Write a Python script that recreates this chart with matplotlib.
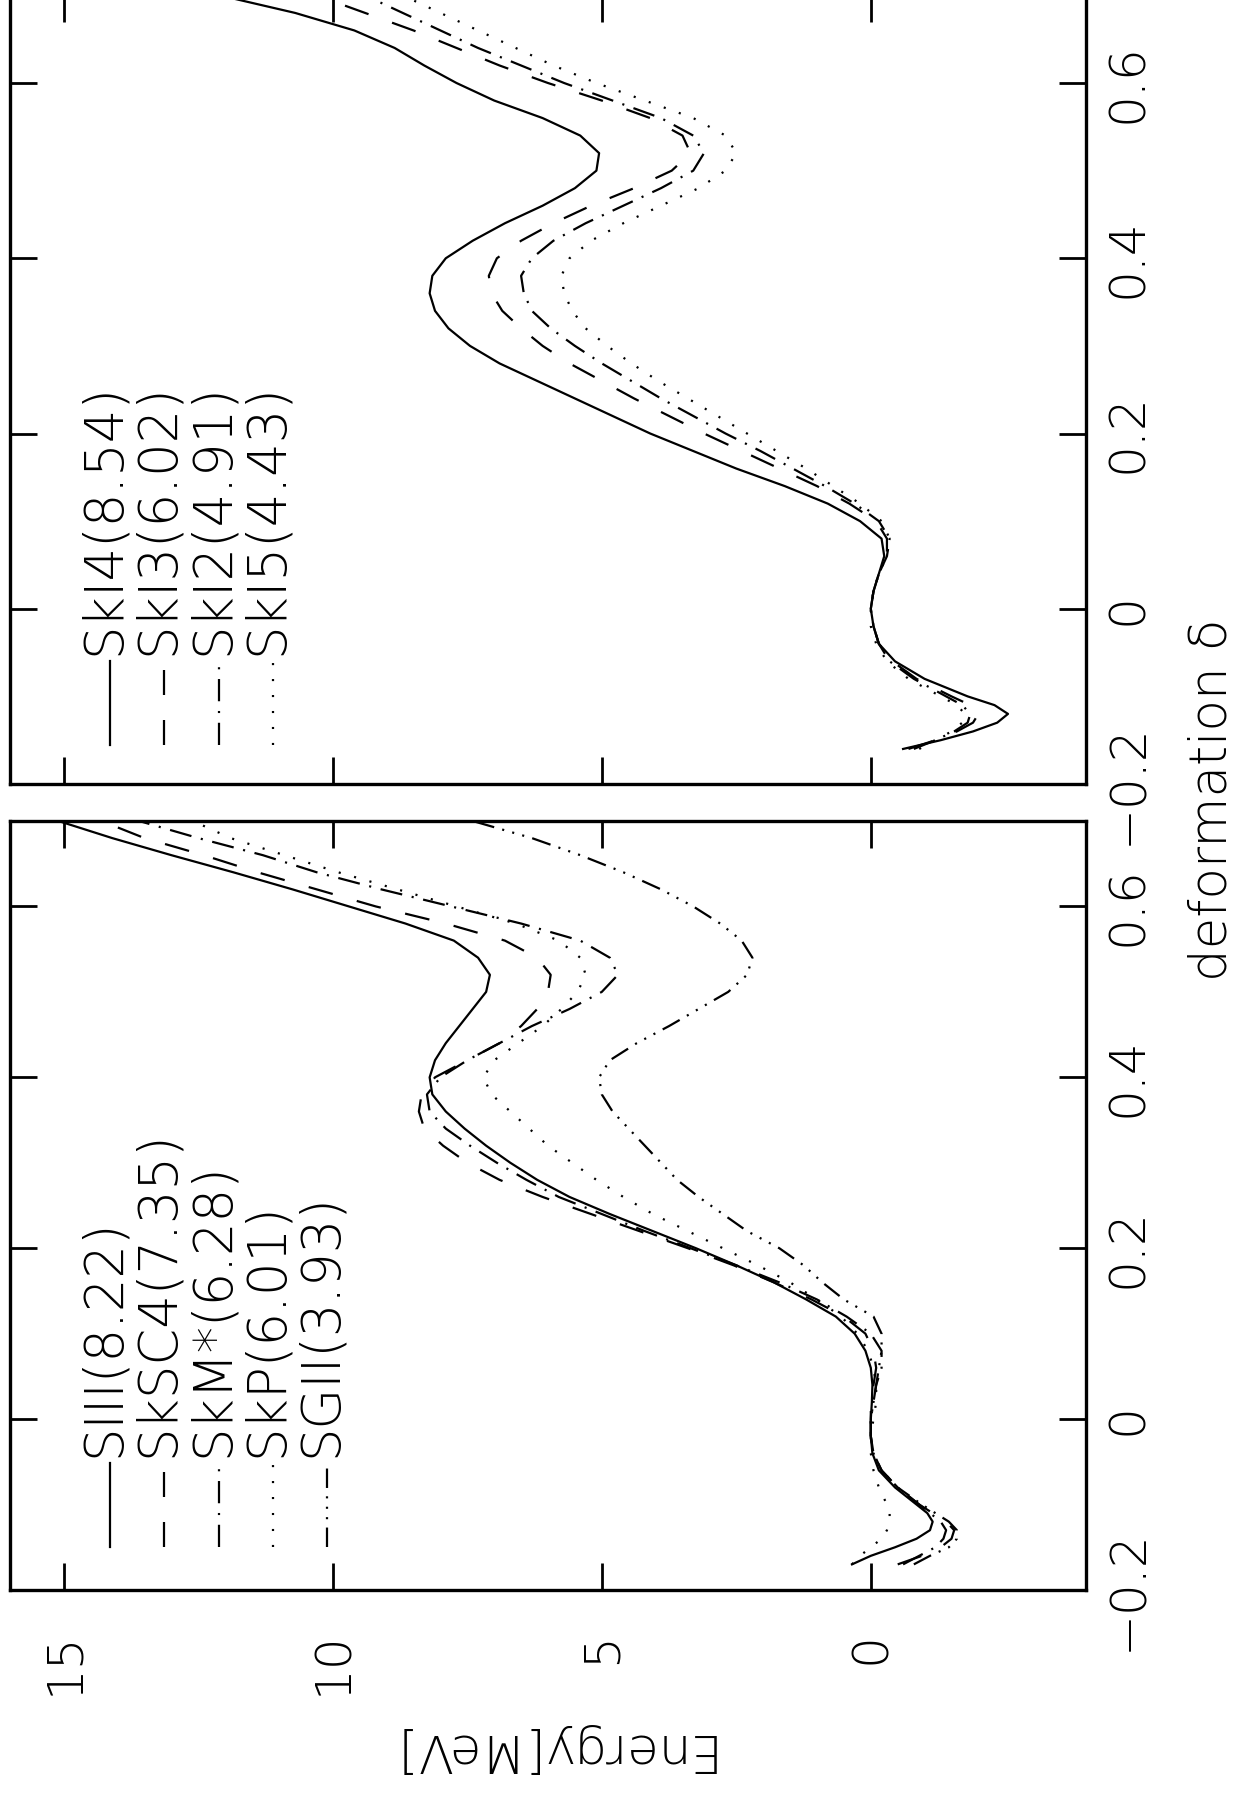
# %% Imports & config
# Two fission-barrier panels, drawn already turned on their side like the
# scanned page: energy runs right-to-left, deformation runs bottom-to-top.
import numpy as np
import matplotlib
matplotlib.use("Agg")
import matplotlib.pyplot as plt

plt.rcParams["font.family"] = ["DejaVu Sans"]
plt.rcParams["font.weight"] = 200      # thin strokes like the plotter font
plt.rcParams["lines.scale_dashes"] = False

# %% Data
deformation = [-0.17, -0.16, -0.15, -0.14, -0.13, -0.12, -0.11, -0.10,
               -0.08, -0.06, -0.04, -0.02, 0.00, 0.02, 0.04, 0.06, 0.08,
               0.10, 0.12, 0.14, 0.16, 0.18, 0.20, 0.22, 0.24, 0.26, 0.28,
               0.30, 0.32, 0.34, 0.36, 0.38, 0.40, 0.42, 0.44, 0.46, 0.48,
               0.50, 0.52, 0.54, 0.56, 0.58, 0.60, 0.62, 0.64, 0.66, 0.68,
               0.70]

# lower panel in the picture
e_siii = [0.35, 0.0, -0.45, -0.85, -1.1, -1.15, -1.05, -0.85, -0.45, -0.15, -0.03, 0.0,
          0.0, -0.02, -0.03, 0.0, 0.1, 0.3, 0.65, 1.2, 1.8, 2.5, 3.25, 4.05, 4.85, 5.6,
          6.2, 6.7, 7.15, 7.55, 7.9, 8.15, 8.2, 8.1, 7.9, 7.65, 7.4, 7.15, 7.08, 7.3,
          7.75, 8.65, 9.7, 10.75, 11.85, 13.0, 14.1, 15.1]
e_sksc4 = [-0.5, -0.95, -1.3, -1.5, -1.55, -1.4, -1.15, -0.9, -0.5, -0.2, -0.05, 0.0,
           0.0, 0.0, -0.05, -0.1, -0.05, 0.1, 0.5, 1.1, 1.8, 2.55, 3.4, 4.3, 5.2, 6.1,
           6.9, 7.5, 7.95, 8.3, 8.4, 8.35, 8.1, 7.5, 6.9, 6.5, 6.2, 6.0, 5.95, 6.2,
           6.8, 7.9, 9.2, 10.3, 11.4, 12.4, 13.5, 14.3]
e_skmstar = [-0.6, -0.9, -1.2, -1.35, -1.4, -1.3, -1.1, -0.9, -0.5, -0.2, -0.05, 0.0,
             0.0, -0.05, -0.1, -0.2, -0.2, 0.0, 0.45, 1.0, 1.7, 2.5, 3.35, 4.2, 5.0, 5.8,
             6.4, 6.95, 7.45, 7.9, 8.2, 8.25, 8.0, 7.5, 6.9, 6.3, 5.6, 5.0, 4.7, 4.85,
             5.4, 6.5, 7.8, 9.1, 10.3, 11.3, 12.5, 13.6]
e_skp = [0.35, 0.2, 0.0, -0.2, -0.3, -0.35, -0.35, -0.3, -0.15, -0.05, 0.0, 0.0,
         -0.05, -0.1, -0.1, -0.05, 0.05, 0.25, 0.55, 1.0, 1.5, 2.1, 2.75, 3.4, 4.05, 4.6,
         5.1, 5.55, 6.0, 6.35, 6.7, 7.05, 7.2, 7.0, 6.55, 6.1, 5.75, 5.45, 5.3, 5.4,
         5.8, 6.6, 7.7, 8.8, 9.9, 10.9, 11.9, 12.6]
e_sgii = [-0.8, -1.1, -1.45, -1.6, -1.6, -1.45, -1.2, -0.95, -0.5, -0.2, -0.05, 0.0,
          0.0, -0.05, -0.1, -0.15, -0.2, -0.2, -0.05, 0.5, 0.9, 1.25, 1.7, 2.3, 2.75, 3.2,
          3.6, 3.9, 4.2, 4.5, 4.8, 5.0, 5.05, 4.85, 4.35, 3.75, 3.2, 2.65, 2.3, 2.2,
          2.4, 2.8, 3.3, 3.9, 4.6, 5.4, 6.3, 7.4]

# upper panel in the picture
e_ski4 = [np.nan, -0.6, -1.3, -1.9, -2.35, -2.55, -2.3, -1.8, -1.0, -0.45, -0.15, -0.05,
          0.0, -0.05, -0.15, -0.25, -0.2, 0.2, 0.8, 1.6, 2.5, 3.3, 4.1, 4.8, 5.5, 6.2,
          6.9, 7.45, 7.85, 8.1, 8.2, 8.15, 7.9, 7.4, 6.8, 6.1, 5.5, 5.1, 5.05, 5.4,
          6.1, 7.0, 7.7, 8.3, 8.85, 9.6, 10.7, 12.1]
e_ski3 = [np.nan, -0.7, -1.2, -1.6, -1.9, -2.0, -1.85, -1.5, -0.85, -0.4, -0.15, -0.05,
          0.0, -0.05, -0.15, -0.3, -0.3, -0.1, 0.4, 1.0, 1.7, 2.4, 3.1, 3.75, 4.4, 5.0,
          5.6, 6.1, 6.5, 6.85, 7.05, 7.1, 6.95, 6.5, 5.9, 5.2, 4.4, 3.7, 3.35, 3.5,
          4.1, 5.0, 6.0, 6.9, 7.7, 8.5, 9.4, 10.3]
e_ski2 = [np.nan, -0.8, -1.2, -1.55, -1.8, -1.85, -1.7, -1.4, -0.8, -0.35, -0.15, -0.05,
          0.0, -0.05, -0.15, -0.3, -0.35, -0.15, 0.3, 0.85, 1.45, 2.05, 2.7, 3.3, 3.9, 4.45,
          5.0, 5.5, 5.95, 6.3, 6.45, 6.5, 6.3, 5.9, 5.3, 4.6, 3.9, 3.3, 3.1, 3.3,
          3.9, 4.8, 5.7, 6.5, 7.3, 8.0, 8.7, 9.4]
e_ski5 = [np.nan, -0.9, -1.2, -1.5, -1.7, -1.75, -1.6, -1.3, -0.7, -0.3, -0.1, 0.0,
          0.0, -0.05, -0.15, -0.3, -0.35, -0.2, 0.2, 0.7, 1.2, 1.75, 2.3, 2.85, 3.4, 3.95,
          4.45, 4.9, 5.3, 5.55, 5.7, 5.75, 5.6, 5.2, 4.6, 3.9, 3.2, 2.7, 2.5, 2.7,
          3.3, 4.2, 5.1, 5.9, 6.6, 7.3, 8.0, 8.7]

labels_low = ["SIII(8.22)", "SkSC4(7.35)", "SkM*(6.28)", "SkP(6.01)", "SGII(3.93)"]
labels_up = ["SkI4(8.54)", "SkI3(6.02)", "SkI2(4.91)", "SkI5(4.43)"]

energy_ticks = [0, 5, 10, 15]
energy_ticklabels = ["0", "5", "10", "15"]
deform_ticks = [-0.2, 0.0, 0.2, 0.4, 0.6]
deform_ticklabels = ["\u22120.2", "0", "0.2", "0.4", "0.6"]

# %% Styles
solid = "-"
dashed = (0, (18, 18))
dashdot = (0, (16, 7, 1.5, 7))
dotted = (0, (1.5, 10))
dash3dot = (0, (14, 6, 1.5, 6, 1.5, 6, 1.5, 6))

LW = 1.6
FS = 36

W, H = 1242, 1796
fig = plt.figure(figsize=(W / 100, H / 100), dpi=100)

# panel boxes in picture pixels: x 10..1086, lower y 821..1590, upper y -5..784
ax_low = fig.add_axes([10 / W, (H - 1590) / H, 1076 / W, 769 / H])
ax_up = fig.add_axes([10 / W, (H - 784) / H, 1076 / W, 788.6 / H])


def style_axes(ax, show_energy):
    ax.set_xlim(16, -4)
    ax.set_ylim(-0.2, 0.7)
    ax.set_xticks(energy_ticks)
    ax.set_yticks(deform_ticks)
    ax.tick_params(which="major", direction="in", length=19.5, width=2.0,
                   top=True, bottom=True, left=True, right=True,
                   labelleft=False, labelright=True, labeltop=False,
                   labelbottom=show_energy)
    ax.tick_params(axis="x", pad=30)
    ax.tick_params(axis="y", pad=13)
    ax.set_xticklabels(energy_ticklabels, rotation=90, fontsize=FS)
    ax.set_yticklabels(deform_ticklabels, rotation=90, va="center", fontsize=FS)
    for sp in ax.spines.values():
        sp.set_linewidth(2.4)


def draw_legend(ax, labels, styles, y_line0, y_line1, y_text):
    # rotated legend: short vertical sample + label reading upward
    for i, (lab, ls) in enumerate(zip(labels, styles)):
        xl = (110 + 54.3 * i - 10) / 1076
        xt = (119 + 54.3 * i - 10) / 1076
        ax.plot([xl, xl], [y_line0, y_line1], transform=ax.transAxes,
                color="black", lw=LW, linestyle=ls, clip_on=False)
        ax.text(xt, y_text, lab, transform=ax.transAxes, rotation=90,
                rotation_mode="anchor", ha="left", va="baseline", fontsize=38)


# %% Lower panel
low_series = [e_siii, e_sksc4, e_skmstar, e_skp, e_sgii]
low_styles = [solid, dashed, dashdot, dotted, dash3dot]
for e, ls in zip(low_series, low_styles):
    ax_low.plot(e, deformation, color="black", lw=LW, linestyle=ls)
style_axes(ax_low, True)
draw_legend(ax_low, labels_low, low_styles,
            (1590 - 1547) / 769, (1590 - 1463) / 769, (1590 - 1457) / 769)

# %% Upper panel
up_series = [e_ski4, e_ski3, e_ski2, e_ski5]
up_styles = [solid, dashed, dashdot, dotted]
for e, ls in zip(up_series, up_styles):
    ax_up.plot(e, deformation, color="black", lw=LW, linestyle=ls)
style_axes(ax_up, False)
draw_legend(ax_up, labels_up, up_styles,
            (784 - 745) / 788.6, (784 - 661) / 788.6, (784 - 655) / 788.6)

# %% Axis titles (turned with the page)
fig.text(548 / W, 1 - 1748 / H, "Energy[MeV]", rotation=180,
         ha="center", va="center", fontsize=37)
fig.text(1212 / W, 1 - 800 / H, "deformation \u03b4", rotation=90,
         ha="center", va="center", fontsize=37)

fig.savefig("out.png", dpi=100, facecolor="white")
